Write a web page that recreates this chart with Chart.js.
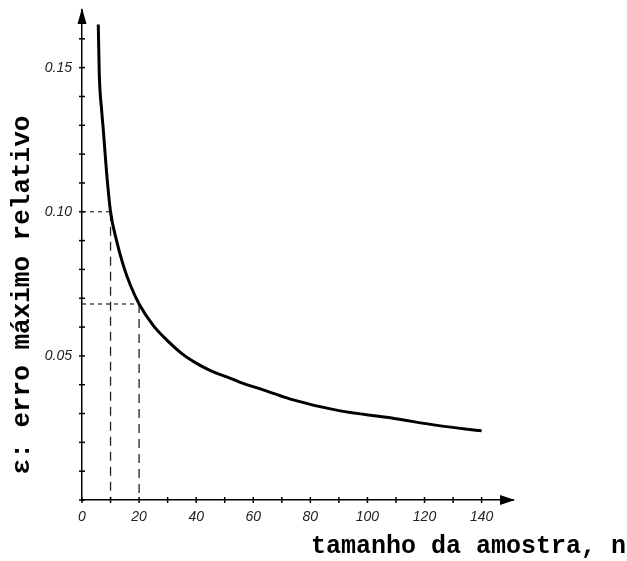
<!DOCTYPE html>
<html>
<head>
<meta charset="utf-8">
<script src="https://cdn.jsdelivr.net/npm/chart.js@4.4.1/dist/chart.umd.min.js"></script>
<style>
  html, body { margin: 0; padding: 0; background: #fff; }
  #wrap { width: 627px; height: 561px; }
</style>
</head>
<body>
<div id="wrap"><canvas id="myChart" width="627" height="561"></canvas></div>
<script>
// curve: sample size n vs max relative error
var sampleSizes = [5.7, 6.05, 6.9, 7.5, 8.5, 10, 12, 14.5, 17, 20, 25, 28.5, 35, 40, 45, 52, 55, 65, 73, 90, 108, 125, 140];
var relErrors = [0.165, 0.148, 0.135, 0.128, 0.115, 0.100, 0.0904, 0.0813, 0.0744, 0.068, 0.0605, 0.0567, 0.0508, 0.0475, 0.0449, 0.0422, 0.041, 0.0377, 0.035, 0.031, 0.0285, 0.0258, 0.024];

// dashed guide lines
var refN = [10, 20];
var refErr = [0.100, 0.068];

var xTickLabels = ["0", "20", "40", "60", "80", "100", "120", "140"];
var yTickLabels = ["0.05", "0.10", "0.15"];

var xTitle = "tamanho da amostra, n";
var yTitle = "\u03b5: erro m\u00e1ximo relativo";

function graph() {
    let curve = [];
    for (let i = 0; i < sampleSizes.length; i++) {
        curve.push({ x: sampleSizes[i], y: relErrors[i] });
    }

    let datasets = [{
        data: curve,
        borderColor: "#000",
        borderWidth: 3,
        pointRadius: 0,
        cubicInterpolationMode: "monotone",
        fill: false
    }];

    for (let i = 0; i < refN.length; i++) {
        // horizontal piece (finer dashes)
        datasets.push({
            data: [{ x: 0, y: refErr[i] }, { x: refN[i], y: refErr[i] }],
            borderColor: "#222",
            borderWidth: 1.2,
            borderDash: [4, 4],
            pointRadius: 0
        });
        // vertical piece
        datasets.push({
            data: [{ x: refN[i], y: refErr[i] }, { x: refN[i], y: 0 }],
            borderColor: "#222",
            borderWidth: 1.3,
            borderDash: [9, 6],
            pointRadius: 0
        });
    }

    const axisDeco = {
        id: "axisDeco",
        afterDraw(chart) {
            const ctx = chart.ctx;
            const xs = chart.scales.x, ys = chart.scales.y;
            const a = chart.chartArea;
            const x0 = xs.getPixelForValue(0), y0 = ys.getPixelForValue(0);
            ctx.save();
            ctx.strokeStyle = "#000";
            ctx.fillStyle = "#000";
            ctx.lineWidth = 1.5;
            // small ticks crossing the axes
            xs.ticks.forEach(t => {
                const px = xs.getPixelForValue(t.value);
                ctx.beginPath();
                ctx.moveTo(px, y0 - 3);
                ctx.lineTo(px, y0 + 3);
                ctx.stroke();
            });
            ys.ticks.forEach(t => {
                const py = ys.getPixelForValue(t.value);
                ctx.beginPath();
                ctx.moveTo(x0 - 3, py);
                ctx.lineTo(x0 + 3, py);
                ctx.stroke();
            });
            // arrow heads
            ctx.beginPath();
            ctx.moveTo(a.right + 2, y0);
            ctx.lineTo(a.right - 13, y0 - 5);
            ctx.lineTo(a.right - 13, y0 + 5);
            ctx.closePath();
            ctx.fill();
            ctx.beginPath();
            ctx.moveTo(x0, a.top - 2);
            ctx.lineTo(x0 - 4.5, a.top + 14);
            ctx.lineTo(x0 + 4.5, a.top + 14);
            ctx.closePath();
            ctx.fill();
            // axis titles
            ctx.font = "bold 25px 'Liberation Mono'";
            ctx.textBaseline = "middle";
            ctx.textAlign = "right";
            ctx.fillText(xTitle, 626, 547);
            ctx.translate(22, 295);
            ctx.rotate(-Math.PI / 2);
            ctx.textAlign = "center";
            ctx.font = "bold 26px 'Liberation Mono'";
            ctx.fillText(yTitle, 0, 0);
            ctx.restore();
        }
    };

    window.myChart = new Chart("myChart", {
        type: "line",
        data: { datasets: datasets },
        options: {
            responsive: false,
            animation: false,
            layout: { padding: { top: 10, right: 114, left: 0, bottom: 0 } },
            plugins: {
                legend: { display: false },
                tooltip: { enabled: false }
            },
            scales: {
                x: {
                    type: "linear",
                    min: 0,
                    max: 151,
                    afterBuildTicks: (s) => {
                        s.ticks = [];
                        for (let v = 0; v <= 140; v += 10) s.ticks.push({ value: v });
                    },
                    afterFit: (s) => {
                        s.height = 61;
                        s.paddingLeft = 0;
                        s.paddingRight = 0;
                    },
                    grid: { display: false, drawTicks: false },
                    border: { display: true, color: "#000", width: 1.5 },
                    ticks: {
                        autoSkip: false,
                        maxRotation: 0,
                        padding: 9,
                        color: "#222",
                        font: { family: "'Liberation Sans'", style: "italic", size: 14 },
                        callback: (v) => (v % 20 === 0 ? xTickLabels[v / 20] : "")
                    }
                },
                y: {
                    type: "linear",
                    min: 0,
                    max: 0.17,
                    afterBuildTicks: (s) => {
                        s.ticks = [];
                        for (let k = 0; k <= 16; k++) s.ticks.push({ value: k / 100 });
                    },
                    afterFit: (s) => {
                        s.width = 82;
                        s.paddingTop = 0;
                        s.paddingBottom = 0;
                    },
                    grid: { display: false, drawTicks: false },
                    border: { display: true, color: "#000", width: 1.5 },
                    ticks: {
                        autoSkip: false,
                        padding: 10,
                        color: "#222",
                        font: { family: "'Liberation Sans'", style: "italic", size: 14 },
                        callback: (v) => {
                            const k = Math.round(v * 100);
                            return (k > 0 && k % 5 === 0) ? yTickLabels[k / 5 - 1] : "";
                        }
                    }
                }
            }
        },
        plugins: [axisDeco]
    });
}

document.addEventListener("DOMContentLoaded", () => {
    graph();
});
</script>
</body>
</html>
